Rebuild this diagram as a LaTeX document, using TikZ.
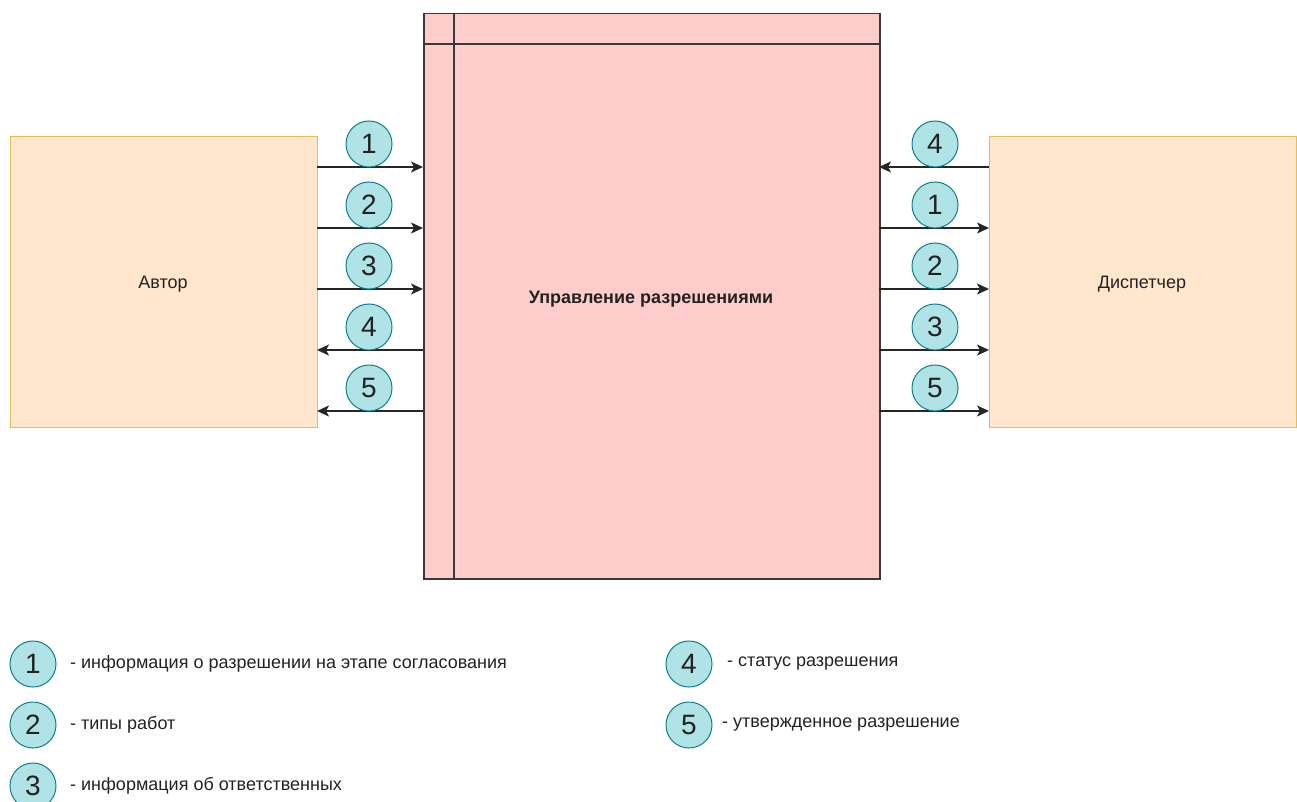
\documentclass[tikz,border=0pt]{standalone}
\usepackage{fontspec}
\setmainfont{Liberation Sans}
\usetikzlibrary{arrows.meta}
\definecolor{mainfill}{HTML}{FFCCCC}
\definecolor{mainline}{HTML}{36393D}
\definecolor{actfill}{HTML}{FFE6CC}
\definecolor{actline}{HTML}{E3BE55}
\definecolor{numfill}{HTML}{B0E3E6}
\definecolor{numline}{HTML}{0E8088}
\definecolor{txt}{HTML}{222222}
\tikzset{
  actor/.style={draw=actline, fill=actfill, line width=1.3pt, minimum width=307pt, minimum height=291pt, inner sep=0pt},
  actlbl/.style={text=txt, font=\fontsize{18}{20}\selectfont},
  num/.style={circle, draw=numline, fill=numfill, line width=1pt, minimum size=46pt, inner sep=0pt, text=txt, font=\fontsize{28}{30}\selectfont},
  flow/.style={draw=black!85, line width=1.3pt, -{Stealth[length=12pt,width=11pt,inset=3pt]}},
  legend/.style={anchor=west, inner sep=0pt, text=txt, font=\fontsize{18}{20}\selectfont},
}
\begin{document}
\begin{tikzpicture}[x=1pt,y=-1pt]
\useasboundingbox (0,0) rectangle (1297,802);
% main process box
\node[draw=mainline, fill=mainfill, line width=1.5pt, minimum width=456pt, minimum height=565pt, inner sep=0pt, anchor=north west] (main) at (423,13) {};
\draw[mainline, line width=1.5pt] (454,13) -- (454,578);
\draw[mainline, line width=1.5pt] (423,44) -- (879,44);
\node[text=txt, font=\bfseries\fontsize{18}{20}\selectfont] (mainlbl) at (651,299) {Управление разрешениями};
% actors
\node[actor, anchor=north west] (author) at (10,136) {};
\node[actlbl] (authorlbl) at (163,284) {Автор};
\node[actor, anchor=north west] (disp) at (989,136) {};
\node[actlbl] (displbl) at (1142,284) {Диспетчер};
% left side arrows
\foreach \y/\n in {167/1, 228/2, 289/3, 350/4, 411/5}{
  \coordinate (la\n) at (317,\y);
  \coordinate (lb\n) at (423,\y);
}
\draw[flow] (la1) -- (lb1);
\draw[flow] (la2) -- (lb2);
\draw[flow] (la3) -- (lb3);
\draw[flow] (lb4) -- (la4);
\draw[flow] (lb5) -- (la5);
\foreach \y/\n in {167/1, 228/2, 289/3, 350/4, 411/5}{
  \node[num] (lc\n) at (369,\y-23) {\n};
}
% right side arrows
\foreach \y/\n in {167/4, 228/1, 289/2, 350/3, 411/5}{
  \coordinate (ra\n) at (879,\y);
  \coordinate (rb\n) at (989,\y);
}
\draw[flow] (rb4) -- (ra4);
\draw[flow] (ra1) -- (rb1);
\draw[flow] (ra2) -- (rb2);
\draw[flow] (ra3) -- (rb3);
\draw[flow] (ra5) -- (rb5);
\foreach \y/\n in {167/4, 228/1, 289/2, 350/3, 411/5}{
  \node[num] (rc\n) at (935,\y-23) {\n};
}
% legend
\node[num] (g1) at (33,664) {1};
\node[legend] (t1) at (70,664) {- информация о разрешении на этапе согласования};
\node[num] (g2) at (33,725) {2};
\node[legend] (t2) at (70,725) {- типы работ};
\node[num] (g3) at (33,786) {3};
\node[legend] (t3) at (70,786) {- информация об ответственных};
\node[num] (g4) at (689,664) {4};
\node[legend] (t4) at (727,664) {- статус разрешения};
\node[num] (g5) at (689,725) {5};
\node[legend] (t5) at (722,725) {- утвержденное разрешение};
\end{tikzpicture}
\end{document}
